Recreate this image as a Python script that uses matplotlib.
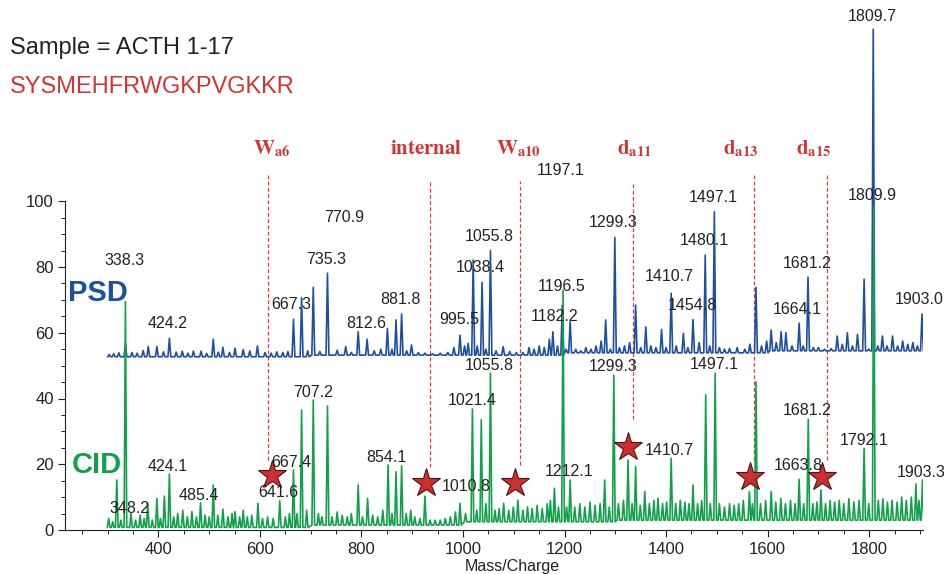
import numpy as np
import matplotlib
matplotlib.use("Agg")
import matplotlib.pyplot as plt

plt.rcParams['font.family'] = ['Liberation Sans', 'DejaVu Sans']
plt.rcParams['mathtext.fontset'] = 'stix'

# PSD trace: peak m/z and intensity as read on the axis (trace is offset upward)
psd_mz = [303, 312, 322, 335, 348, 358, 370, 380, 397, 410,
          421.6, 435, 447, 458, 469, 484, 495, 508, 518, 527,
          540, 551, 567, 580, 595, 610, 622, 633, 645, 655,
          666, 682, 694, 705, 718, 733, 752, 769, 780, 793.5,
          811, 825, 838, 851, 860, 868, 879, 889, 898.5, 912,
          925, 940, 955, 970, 982, 994, 1003, 1010, 1020, 1028,
          1037.5, 1045, 1054, 1065, 1079, 1092, 1105, 1118, 1130, 1140,
          1150, 1160, 1170, 1177, 1186, 1195.5, 1203, 1211, 1222, 1232,
          1242, 1252, 1262, 1272, 1281, 1290, 1299, 1308, 1318, 1328,
          1340, 1350, 1360, 1370, 1380, 1391, 1400, 1410, 1420, 1434,
          1443, 1453, 1465, 1477, 1486, 1495, 1505, 1515, 1525, 1540,
          1555, 1565, 1577, 1588, 1598, 1607, 1617, 1626.5, 1636, 1648,
          1662, 1670, 1679.5, 1690, 1700, 1712, 1725, 1737, 1747, 1757,
          1767, 1777, 1790, 1799, 1808, 1817, 1826, 1835, 1846, 1856,
          1866, 1876, 1886, 1895, 1904]
psd_int = [53.4, 53.6, 53.9, 56.8, 54.0, 53.8, 54.6, 55.8, 55.8, 54.2,
           58.3, 54.1, 54.4, 53.8, 54.4, 54.4, 53.7, 58.0, 54.1, 55.6,
           54.0, 55.3, 54.9, 54.5, 56.0, 54.0, 53.8, 54.2, 54.0, 54.3,
           64.1, 70.7, 54.5, 73.8, 54.3, 78.1, 54.7, 55.8, 54.0, 60.3,
           58.0, 54.5, 55.0, 61.3, 55.0, 63.9, 65.7, 54.5, 56.3, 54.0,
           53.8, 53.6, 53.8, 54.0, 55.5, 59.3, 56.0, 56.8, 82.1, 56.0,
           75.3, 55.0, 85.0, 54.5, 55.8, 54.3, 54.0, 54.0, 55.5, 55.0,
           56.0, 55.5, 58.0, 60.3, 56.0, 68.4, 55.0, 63.4, 55.0, 54.5,
           55.5, 55.0, 56.0, 57.5, 63.9, 55.0, 89.0, 55.5, 56.0, 57.0,
           68.4, 55.5, 61.8, 56.0, 55.5, 61.0, 55.5, 72.0, 56.0, 59.8,
           55.5, 64.0, 57.0, 83.6, 56.0, 96.8, 55.5, 55.0, 55.2, 55.5,
           55.0, 56.5, 73.8, 56.0, 57.5, 60.8, 57.0, 60.3, 60.0, 56.0,
           62.9, 56.0, 76.9, 55.5, 55.5, 55.0, 55.2, 59.0, 56.5, 60.0,
           56.0, 59.5, 76.3, 55.0, 152.3, 56.0, 59.0, 56.0, 59.0, 56.0,
           57.5, 56.5, 57.0, 56.0, 65.7]
psd_base_edges = [300, 700, 1200, 1600]
psd_base_level = [52.7, 53.2, 53.9, 54.5]

# CID trace
cid_mz = [302, 310, 318, 326, 335, 346, 355, 364, 372, 379,
          388, 397, 404, 411.7, 421.6, 430, 438, 448, 457, 466,
          475, 483, 492, 500, 508, 517, 527, 537, 545, 551,
          560, 567, 575, 584, 596, 605, 615, 626, 639, 650,
          658, 666, 673, 682, 692, 705, 715, 722, 733, 742,
          752, 762, 772, 780, 793.5, 802, 812, 822, 832, 842,
          852.4, 860, 868, 879, 888, 897, 905, 915, 925, 935,
          945, 955, 965, 975, 985, 994, 1005, 1018.5, 1027, 1036,
          1045, 1054, 1063, 1071, 1080, 1090, 1099, 1108, 1118, 1127,
          1136, 1146, 1156, 1166, 1172, 1180, 1188, 1197, 1204, 1211,
          1220, 1230, 1240, 1250, 1260, 1270, 1279, 1288, 1297, 1306,
          1316, 1325, 1333, 1340, 1349, 1358, 1367, 1376, 1384, 1393,
          1401, 1410, 1419, 1428, 1437, 1445, 1453, 1462, 1470, 1478,
          1487, 1496.6, 1505, 1515, 1525, 1534, 1543, 1552, 1564, 1570,
          1577, 1586, 1596, 1607, 1616, 1626, 1635, 1645, 1654, 1662,
          1671, 1680, 1689, 1697, 1705, 1714, 1723, 1732, 1741, 1750,
          1760, 1770, 1780, 1790, 1799, 1809, 1818, 1827, 1836, 1845,
          1855, 1864, 1873, 1883, 1892, 1898, 1905]
cid_int = [3.5, 2.5, 15.2, 3.0, 69.5, 5.0, 3.0, 4.5, 3.5, 8.1,
           3.0, 9.6, 3.5, 10.3, 17.0, 4.0, 5.0, 6.0, 4.0, 5.6,
           4.0, 8.3, 4.5, 4.0, 13.7, 4.5, 6.3, 4.0, 5.0, 5.6,
           4.0, 6.0, 4.0, 4.5, 8.1, 3.5, 4.0, 3.5, 8.9, 4.0,
           5.0, 18.3, 5.0, 36.5, 6.0, 39.5, 5.0, 4.0, 37.7, 4.0,
           5.5, 4.5, 4.0, 5.0, 13.7, 4.0, 9.6, 4.5, 4.0, 6.0,
           19.8, 5.0, 17.7, 19.5, 5.0, 6.0, 4.0, 3.5, 10.3, 3.0,
           3.0, 3.0, 3.5, 4.0, 5.5, 8.1, 5.0, 36.8, 6.0, 33.5,
           8.0, 47.7, 6.0, 6.5, 8.1, 6.0, 7.0, 9.1, 6.0, 7.0,
           6.5, 7.5, 6.5, 8.0, 9.0, 12.7, 7.0, 73.0, 7.0, 15.2,
           7.0, 8.0, 7.0, 8.5, 7.5, 8.0, 15.2, 7.0, 47.1, 8.0,
           9.0, 21.3, 8.0, 19.3, 7.5, 11.7, 8.0, 9.0, 9.6, 8.0,
           8.5, 21.8, 8.0, 9.0, 8.5, 8.0, 13.7, 8.0, 9.0, 41.1,
           8.0, 47.7, 8.0, 7.0, 8.0, 7.5, 8.0, 9.0, 11.7, 8.0,
           45.1, 8.0, 9.0, 11.7, 8.5, 9.6, 8.0, 9.0, 8.0, 15.4,
           8.0, 33.7, 8.0, 8.5, 12.2, 8.0, 9.0, 8.5, 9.0, 8.0,
           9.5, 8.5, 9.0, 24.8, 8.0, 98.3, 9.0, 9.5, 8.5, 9.0,
           8.5, 10.0, 9.0, 10.0, 14.0, 9.0, 15.2]
cid_base_edges = [300, 700, 1000, 1300]
cid_base_level = [0.8, 1.5, 2.5, 3.0]

# peak labels
psd_lab = ['338.3', '424.2', '667.3', '735.3', '770.9', '812.6', '881.8', '995.5',
           '1038.4', '1055.8', '1182.2', '1196.5', '1197.1', '1299.3', '1410.7',
           '1454.8', '1480.1', '1497.1', '1681.2', '1664.1', '1809.7', '1809.9', '1903.0']
psd_lab_x = [334, 418.5, 661.4, 730, 766.3, 808.6, 876.8, 992.5,
             1034.4, 1052.6, 1180.4, 1193.8, 1191.9, 1295, 1407,
             1451.5, 1475.6, 1493, 1678, 1659, 1806.6, 1806.6, 1898.5]
psd_lab_y = [82.1, 62.7, 68.7, 82.3, 95.1, 62.7, 70.2, 63.9,
             79.8, 89.4, 64.9, 74.0, 109.3, 93.5, 77.0,
             68.4, 88.2, 101.2, 81.1, 67.1, 156.1, 101.9, 70.2]
cid_lab = ['348.2', '424.1', '485.4', '667.4', '641.6', '707.2', '854.1', '1010.8',
           '1021.4', '1055.8', '1212.1', '1299.3', '1410.7', '1497.1', '1681.2',
           '1663.8', '1792.1', '1903.3']
cid_lab_x = [343, 418.5, 480, 662.4, 636.8, 704.7, 849.3, 1006.6,
             1018, 1052, 1208.3, 1295.8, 1406.6, 1494, 1678.6,
             1661, 1789.3, 1901.8]
cid_lab_y = [6.6, 19.3, 10.4, 20.5, 11.5, 41.9, 22.1, 13.2,
             39.3, 49.9, 17.7, 49.7, 24.1, 50.2, 36.5,
             19.5, 27.2, 17.4]

# fragment markers
star_x = [624.3, 926.6, 1103, 1324, 1565.5, 1708]
star_y = [16.7, 14.2, 14.2, 25.2, 16.2, 16.2]
frag_names = [r'$\mathbf{W}_{\mathbf{a6}}$', r'$\mathbf{internal}$', r'$\mathbf{W}_{\mathbf{a10}}$',
              r'$\mathbf{d}_{\mathbf{a11}}$', r'$\mathbf{d}_{\mathbf{a13}}$', r'$\mathbf{d}_{\mathbf{a15}}$']
frag_name_x = [623, 927, 1109, 1338, 1546, 1690]
frag_line_x = [615.8, 934.5, 1111.5, 1334.5, 1574, 1717]
frag_line_top = [108.6, 106.2, 106.2, 106.0, 108.5, 108.5]
frag_line_bot = [21.3, 19.3, 19.8, 33.7, 21.3, 21.3]

BLUE = '#1f4f9f'
GREEN = '#13a04a'
RED = '#d03434'


def trace(mz, inten, edges, levels, w):
    xs, ys = [], []
    for m, h in zip(mz, inten):
        b = levels[np.searchsorted(edges, m, side='right') - 1]
        xs += [m - w, m, m + w]
        ys += [b, h, b]
    return xs, ys


fig = plt.figure(figsize=(9.48, 5.74), dpi=100)
ax = fig.add_axes([65 / 948, 44 / 574, 858 / 948, 530 / 574])
ax.set_xlim(216, 1906)
ax.set_ylim(0, 530 / 3.2875)

px, py = trace(psd_mz, psd_int, psd_base_edges, psd_base_level, 2.8)
cx, cy = trace(cid_mz, cid_int, cid_base_edges, cid_base_level, 2.6)
ax.plot(px, py, color=BLUE, lw=1.2, zorder=3)
ax.plot(cx, cy, color=GREEN, lw=1.2, zorder=4)

ax.vlines(frag_line_x, frag_line_bot, frag_line_top, colors='#e03a3a',
          linestyles=(0, (3, 2)), lw=0.9, zorder=2)
for name, x in zip(frag_names, frag_name_x):
    ax.text(x, 114.4, name, color=RED, fontsize=15, ha='center', va='baseline')

ax.plot(star_x, star_y, linestyle='none', marker='*', ms=21, mfc='#cc2f2f',
        mec='#4a1515', mew=0.8, zorder=6)

for t, x, y in zip(psd_lab, psd_lab_x, psd_lab_y):
    ax.text(x, y, t, fontsize=11.5, ha='center', va='center', color='#222222', zorder=7)
for t, x, y in zip(cid_lab, cid_lab_x, cid_lab_y):
    ax.text(x, y, t, fontsize=11.5, ha='center', va='center', color='#222222', zorder=7)

ax.text(68 / 948, 1 - 293 / 574, 'PSD', transform=fig.transFigure, fontsize=21,
        fontweight='bold', color=BLUE, va='center', ha='left')
ax.text(72 / 948, 1 - 465 / 574, 'CID', transform=fig.transFigure, fontsize=21,
        fontweight='bold', color=GREEN, va='center', ha='left')
fig.text(10 / 948, 1 - 48 / 574, 'Sample = ACTH 1-17', fontsize=17, color='#222222',
         va='center', ha='left')
fig.text(10 / 948, 1 - 87 / 574, 'SYSMEHFRWGKPVGKKR', fontsize=17, color=RED,
         va='center', ha='left')
fig.text(512 / 948, 1 - 566 / 574, 'Mass/Charge', fontsize=11.5, color='#222222',
         va='center', ha='center')

for s in ['top', 'right']:
    ax.spines[s].set_visible(False)
ax.spines['left'].set_bounds(0, 100)
ax.spines['left'].set_color('#222222')
ax.spines['bottom'].set_color('#222222')
ax.set_yticks(np.arange(0, 101, 20))
ax.set_yticks(np.arange(0, 101, 5), minor=True)
ax.set_xticks(np.arange(400, 1801, 200))
ax.set_xticks(np.arange(250, 1901, 50), minor=True)
ax.tick_params(axis='both', which='major', labelsize=12, length=5, width=0.8,
               colors='#222222', pad=3)
ax.tick_params(axis='both', which='minor', length=3, width=0.7, colors='#222222')
ax.tick_params(axis='x', which='major', pad=4)

fig.savefig('out.png', dpi=100)
